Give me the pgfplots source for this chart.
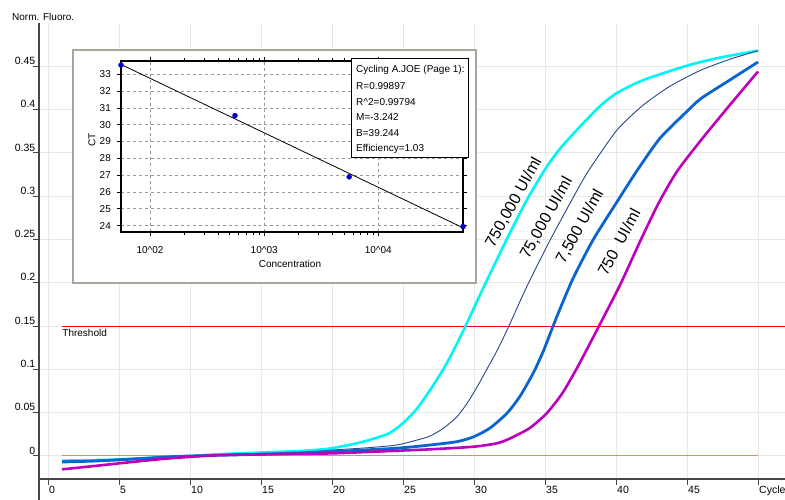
\documentclass[border=0pt]{standalone}
\usepackage{pgfplots}
\pgfplotsset{compat=1.18}
\usepackage{fontspec}
\setmainfont{Liberation Sans}
\definecolor{cCyan}{RGB}{0,245,245}
\definecolor{cThin}{RGB}{40,70,140}
\definecolor{cBlue}{RGB}{10,100,210}
\definecolor{cMag}{RGB}{190,0,190}
\definecolor{cTan}{RGB}{195,155,95}
\definecolor{cGrid}{RGB}{232,232,232}
\definecolor{cAxis}{RGB}{70,70,70}
\definecolor{cFrame}{RGB}{170,165,155}
\definecolor{cDot}{RGB}{0,0,200}
\begin{document}
\begin{tikzpicture}[font=\fontsize{10bp}{12bp}\selectfont]
\path[use as bounding box] (0,0) rectangle (785bp,500bp);
\begin{axis}[
  at={(39bp,21bp)}, anchor=south west, scale only axis,
  width=746bp, height=456bp,
  xmin=-0.634, xmax=51.9, ymin=-0.02656, ymax=0.5,
  axis x line*=bottom, axis y line*=left,
  axis line style={cAxis, line width=1.2bp},
  xtick={0,5,10,15,20,25,30,35,40,45,50},
  xticklabels={0,5,10,15,20,25,30,35,40,45,Cycle},
  ytick={0,0.05,0.1,0.15,0.2,0.25,0.3,0.35,0.4,0.45},
  yticklabels={0,0.05,0.1,0.15,0.2,0.25,0.3,0.35,0.4,0.45},
  /pgf/number format/assume math mode=true,
  tick align=outside, major tick length=6bp,
  tick style={cAxis, line width=1bp},
  grid=major, major grid style={cGrid, line width=1bp},
  xticklabel style={anchor=north west, inner sep=0pt, xshift=1bp, yshift=-1bp, font=\fontsize{10.5bp}{12bp}\selectfont},
  yticklabel style={anchor=south east, inner sep=0pt, xshift=2.5bp, yshift=1.5bp, font=\fontsize{10.5bp}{12bp}\selectfont},
]
\addplot[cTan, line width=1bp] coordinates {(1,0) (50,0)};
\addplot[red, line width=1bp] coordinates {(1,0.15) (51.9,0.15)};
% 750,000 UI/ml
\addplot[cCyan, line width=2.6bp, smooth, tension=0.4] coordinates {
(1,-0.0054) (3,-0.0048) (5,-0.004) (8,-0.0015) (10,0.000) (12,0.002) (15,0.004) (18,0.006) (20,0.009)
(22.2,0.0165) (24,0.026) (25,0.038) (26,0.055) (26.9,0.076) (27.8,0.099) (28.5,0.120) (29.4,0.150)
(30.65,0.194) (32.3,0.250) (33.7,0.295) (35.0,0.331) (36.06,0.355) (37.5,0.381) (38.87,0.404)
(40.05,0.419) (41.9,0.434) (45.05,0.451) (47.3,0.460) (50,0.468)};
% 75,000 UI/ml
\addplot[cThin, line width=0.9bp, smooth, tension=0.4] coordinates {
(1,-0.006) (3,-0.005) (5,-0.0035) (8,-0.0015) (10,0) (15,0.002) (18,0.004) (20,0.0069) (22.5,0.0095)
(24.55,0.0127) (26,0.0185) (26.9,0.023) (27.84,0.032) (28.78,0.045) (29.48,0.060) (30.19,0.079)
(30.9,0.100) (31.6,0.121) (32.4,0.148) (33.7,0.195) (35.35,0.249) (37.0,0.299) (38.05,0.329)
(40.05,0.376) (41.9,0.405) (43.8,0.427) (45.9,0.445) (48.0,0.458) (50,0.468)};
% 7,500 UI/ml
\addplot[cBlue, line width=2.8bp, smooth, tension=0.4] coordinates {
(1,-0.0069) (3,-0.006) (5,-0.0045) (8,-0.0015) (10,0) (15,0.002) (19.86,0.005) (24.55,0.009)
(26.9,0.0127) (28.78,0.0165) (29.95,0.022) (31.1,0.032) (32.3,0.049) (33.24,0.069) (34.18,0.096)
(34.88,0.121) (35.45,0.145) (36.06,0.170) (37.0,0.206) (38.4,0.250) (40.05,0.293) (41.5,0.330)
(43.1,0.367) (45.0,0.398) (46.0,0.413) (48.0,0.434) (50,0.455)};
% 750 UI/ml
\addplot[cMag, line width=2.6bp, smooth, tension=0.4] coordinates {
(1,-0.0154) (3,-0.012) (5,-0.0085) (8,-0.0035) (10,-0.001) (12,0.001) (15,0.002) (19.86,0.003)
(23,0.005) (26.9,0.0077) (29.95,0.0107) (31.6,0.0146) (32.5,0.020) (33.9,0.032) (35.1,0.049)
(36.2,0.072) (37.3,0.103) (38.8,0.150) (40.3,0.198) (41.7,0.248) (43.0,0.292) (44.27,0.328)
(45.9,0.363) (47.8,0.401) (50,0.444)};
\node[anchor=north west, inner sep=0pt, yshift=-2.5bp] at (axis cs:1,0.15) {Threshold};
\node[rotate=61, font=\fontsize{16bp}{18bp}\selectfont] at (axis cs:32.8,0.293) {750,000 UI/ml};
\node[rotate=61, font=\fontsize{16bp}{18bp}\selectfont] at (axis cs:35.1,0.275) {75,000 UI/ml};
\node[rotate=61, font=\fontsize{16bp}{18bp}\selectfont] at (axis cs:37.46,0.265) {7,500 UI/ml};
\node[rotate=62, font=\fontsize{16bp}{18bp}\selectfont] at (axis cs:40.2,0.247) {750~~UI/ml};
\end{axis}
\draw[cAxis, line width=1.2bp] (39bp,0bp) -- (39bp,21bp);
\node[anchor=west, inner sep=0pt] at (12bp,483bp) {Norm. Fluoro.};
% inset
\draw[cFrame, line width=1.5bp, fill=white] (73bp,217bp) rectangle (476bp,450bp);
\begin{axis}[
  at={(121bp,268bp)}, anchor=south west, scale only axis,
  width=342bp, height=171bp,
  xmode=log, xmin=55.7, xmax=55200, ymin=23.62, ymax=33.79,
  xtick={100,1000,10000},
  xticklabels={10\textasciicircum 02,10\textasciicircum 03,10\textasciicircum 04},
  ytick={24,25,26,27,28,29,30,31,32,33},
  /pgf/number format/assume math mode=true,
  axis line style={black, line width=1.5bp},
  tick align=outside, major tick length=4bp, minor tick length=3bp,
  tick style={black, line width=0.8bp},
  grid=major, major grid style={gray!80, dashed, line width=0.8bp},
  xticklabel style={anchor=center, inner sep=0pt, yshift=-14bp},
  yticklabel style={anchor=east, inner sep=0pt, xshift=-6bp},
  xlabel={Concentration}, ylabel={CT},
  xlabel style={at={(axis description cs:0.494,-0.187)}, anchor=center, inner sep=0pt},
  ylabel style={at={(axis description cs:-0.085,0.538)}, anchor=center, inner sep=0pt},
]
\addplot[black, line width=0.8bp] coordinates {(55.7,33.584) (55200,23.871)};
\addplot[only marks, mark=*, mark size=2.5bp, cDot] coordinates {
(55.7,33.55) (555,30.54) (5560,26.9) (55200,23.94)};
\end{axis}
\draw[black, line width=1bp, fill=white] (351bp,342bp) rectangle (468bp,441bp);
\node[anchor=west, inner sep=0pt] at (356bp,430bp) {Cycling A.JOE (Page 1):};
\node[anchor=west, inner sep=0pt] at (356bp,414.3bp) {R=0.99897};
\node[anchor=west, inner sep=0pt] at (356bp,398.3bp) {R\textasciicircum 2=0.99794};
\node[anchor=west, inner sep=0pt] at (356bp,382.7bp) {M=-3.242};
\node[anchor=west, inner sep=0pt] at (356bp,367bp) {B=39.244};
\node[anchor=west, inner sep=0pt] at (356bp,351bp) {Efficiency=1.03};
\end{tikzpicture}
\end{document}
